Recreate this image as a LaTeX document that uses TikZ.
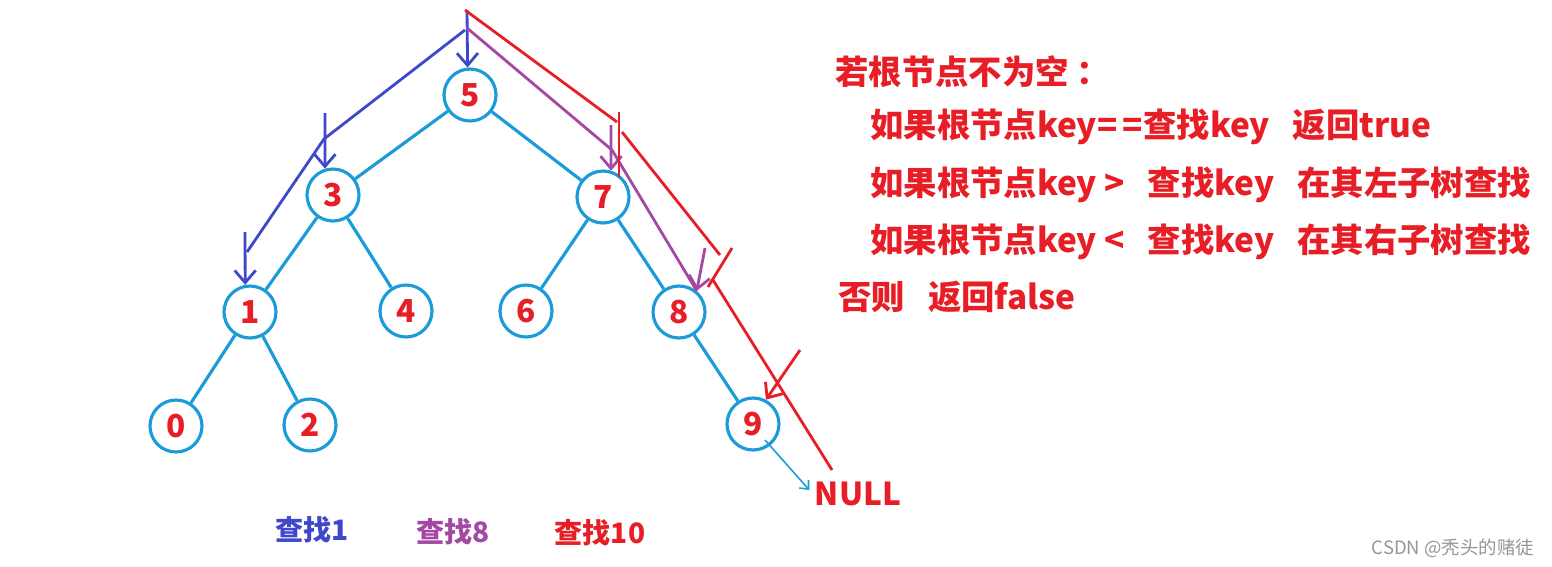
\documentclass[tikz,border=0pt]{standalone}
\usepackage{fontspec}
\newfontfamily\cjk{Noto Sans CJK SC}
\usetikzlibrary{arrows.meta}
\definecolor{cyan1}{RGB}{27,156,217}
\definecolor{red1}{RGB}{232,30,38}
\definecolor{blue1}{RGB}{63,72,204}
\definecolor{purple1}{RGB}{163,73,164}
\definecolor{gray1}{RGB}{150,150,150}
\begin{document}
\begin{tikzpicture}[x=0.02cm, y=-0.02cm,
    keynode/.style={draw=cyan1, circle, line width=1.8pt, minimum size=1.04cm, inner sep=0pt, text=red1, font=\cjk\bfseries\fontsize{18}{18}\selectfont},
    treeedge/.style={draw=cyan1, line width=1.8pt},
    barb/.style={-{Straight Barb[length=7pt,width=12pt]}},
    bluepath/.style={draw=blue1, line width=1.6pt},
    purplepath/.style={draw=purple1, line width=1.6pt},
    redpath/.style={draw=red1, line width=1.6pt},
    rule/.style={anchor=west, inner sep=0pt, text=red1, font=\cjk\bfseries\fontsize{19}{19}\selectfont},
    findlabel/.style={inner sep=0pt, font=\cjk\bfseries\fontsize{16}{16}\selectfont}
]
    \useasboundingbox (0,0) rectangle (1552,566);

    % tree
    \node[keynode] (n5) at (470,95) {5};
    \node[keynode] (n3) at (333,195) {3};
    \node[keynode] (n7) at (603,197) {7};
    \node[keynode] (n1) at (250,312) {1};
    \node[keynode] (n4) at (406,311) {4};
    \node[keynode] (n6) at (526,311) {6};
    \node[keynode] (n8) at (679,312) {8};
    \node[keynode] (n0) at (176,426) {0};
    \node[keynode] (n2) at (310,425) {2};
    \node[keynode] (n9) at (753,424) {9};
    \node[inner sep=1pt, text=red1, font=\cjk\bfseries\fontsize{18}{18}\selectfont] (null) at (858,494) {NULL};

    \draw[treeedge] (n5) -- (n3);
    \draw[treeedge] (n5) -- (n7);
    \draw[treeedge] (n3) -- (n1);
    \draw[treeedge] (n3) -- (n4);
    \draw[treeedge] (n7) -- (n6);
    \draw[treeedge] (n7) -- (n8);
    \draw[treeedge] (n1) -- (n0);
    \draw[treeedge] (n1) -- (n2);
    \draw[treeedge] (n8) -- (n9);

    \coordinate (a9) at (765,440);
    \draw[draw=cyan1, line width=0.9pt, -{Straight Barb[length=4pt,width=7pt]}, shorten >=3pt] (a9) -- (null.west);

    % search 1
    \coordinate (b0) at (467,10);
    \coordinate (b1) at (465,30);
    \coordinate (b2) at (324,139);
    \coordinate (b3) at (247,252);
    \coordinate (b4) at (325,113);
    \coordinate (b5) at (245,232);
    \draw[bluepath, barb] (b0) -- (n5.95);
    \draw[bluepath] (b1) -- (b2) -- (b3);
    \draw[bluepath, barb] (b4) -- (n3.107);
    \draw[bluepath, barb] (b5) -- (n1.100);

    % search 8
    \coordinate (p1) at (467,28);
    \coordinate (p2) at (612,150);
    \coordinate (p3) at (611,125);
    \coordinate (p4) at (705,248);
    \draw[purplepath] (p1) -- (p2) -- (n8.50);
    \draw[purplepath, barb] (p3) -- (n7.73);
    \draw[purplepath, barb] (p4) -- (n8.50);

    % search 10
    \coordinate (r0) at (465,10);
    \coordinate (r1) at (617,122);
    \coordinate (r2) at (622,132);
    \coordinate (r3) at (720,255);
    \coordinate (r4) at (713,280);
    \coordinate (r5) at (832,470);
    \coordinate (t1) at (619,112);
    \coordinate (t2) at (619,177);
    \coordinate (t3) at (732,248);
    \coordinate (t4) at (708,287);
    \coordinate (r6) at (800,350);
    \draw[redpath] (r0) -- (r1);
    \draw[redpath] (t1) -- (t2);
    \draw[redpath] (r2) -- (r3);
    \draw[redpath] (t3) -- (t4);
    \draw[redpath] (r4) -- (r5);
    \draw[redpath, barb] (r6) -- (n9.62);

    % rules
    \node[rule] (l1) at (835,72) {若根节点不为空~：};
    \node[rule] (l2) at (870,127) {如果根节点key=\,=查找key~~~返回true};
    \node[rule] (l3) at (870,185) {如果根节点key~>~~~查找key~~~在其左子树查找};
    \node[rule] (l4) at (870,242) {如果根节点key~<~~~查找key~~~在其右子树查找};
    \node[rule] (l5) at (838,297) {否则~~~返回false};

    % labels
    \node[findlabel, text=blue1] (f1) at (312,530) {查找1};
    \node[findlabel, text=purple1] (f8) at (453,532) {查找8};
    \node[findlabel, text=red1] (f10) at (600,533) {查找10};

    \node[inner sep=0pt, text=gray1, font=\cjk\fontsize{10.5}{10.5}\selectfont] (mark) at (1453,548) {CSDN @秃头的赌徒};
\end{tikzpicture}
\end{document}
